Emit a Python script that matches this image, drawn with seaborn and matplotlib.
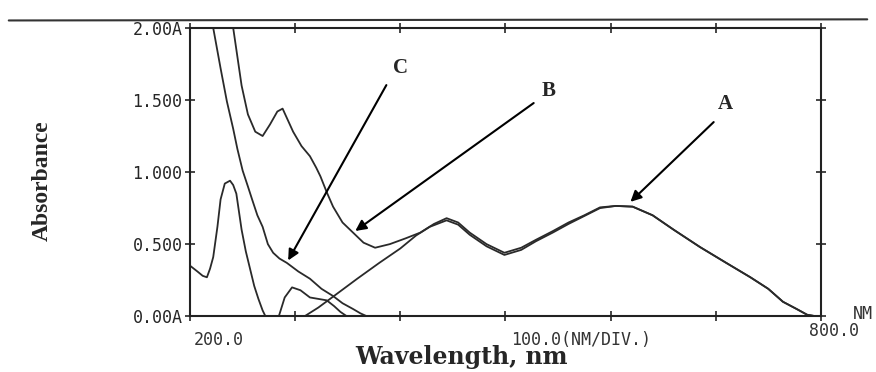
import matplotlib
matplotlib.use("Agg")
import matplotlib.pyplot as plt
from matplotlib.lines import Line2D
import numpy as np
import pandas as pd
import seaborn as sns

# --- data (wavelength nm, absorbance) ---
wl_A = [309, 322, 335, 359, 380, 400, 415, 428, 444, 455, 466, 482, 499, 515, 529, 545,
        560, 575, 590, 605, 621, 640, 660, 685, 710, 733, 750, 764, 777, 787, 795]
abs_A = [0.0, 0.06, 0.13, 0.26, 0.37, 0.47, 0.56, 0.62, 0.665, 0.635, 0.565, 0.485, 0.425, 0.46, 0.52, 0.58,
         0.64, 0.695, 0.75, 0.765, 0.76, 0.70, 0.60, 0.48, 0.37, 0.27, 0.19, 0.10, 0.05, 0.01, 0.0]

wl_B = [232, 241, 245, 249, 255, 262, 269, 276, 283, 288, 293, 298, 306, 314, 320, 324, 330,
        336, 345, 355, 365, 376, 390, 405, 419, 432, 444, 455, 466, 482, 499, 515, 529, 545,
        560, 575, 590, 605, 621, 640, 660, 685, 710, 733, 750, 764, 777, 787, 795]
abs_B = [2.4, 2.0, 1.80, 1.60, 1.40, 1.28, 1.25, 1.33, 1.42, 1.44, 1.36, 1.28, 1.18, 1.11, 1.03, 0.97, 0.86,
         0.76, 0.65, 0.58, 0.51, 0.475, 0.50, 0.54, 0.58, 0.64, 0.68, 0.65, 0.58, 0.50, 0.44, 0.475, 0.53, 0.59,
         0.65, 0.70, 0.755, 0.765, 0.76, 0.70, 0.60, 0.48, 0.37, 0.27, 0.19, 0.10, 0.05, 0.01, 0.0]

wl_C = [215, 222, 229, 235, 241, 245, 250, 255, 259, 264, 269, 274, 279, 285, 292, 303, 314,
        325, 336, 345, 355, 362, 368]
abs_C = [2.4, 2.0, 1.72, 1.49, 1.30, 1.16, 1.01, 0.90, 0.81, 0.70, 0.62, 0.50, 0.44, 0.40, 0.37, 0.31, 0.26,
         0.19, 0.14, 0.09, 0.05, 0.02, 0.0]

# unlabelled trace with the 0.94 band in the UV
wl_D = [200, 207, 212, 216, 219, 222, 226, 229, 233, 238, 241, 244, 249, 253, 257, 261, 265, 269,
        273, 278, 284, 290, 297, 305, 314, 322, 330, 337, 343, 349]
abs_D = [0.35, 0.31, 0.28, 0.27, 0.33, 0.41, 0.62, 0.81, 0.92, 0.94, 0.91, 0.85, 0.60, 0.45, 0.33, 0.21, 0.12, 0.04,
         -0.02, -0.06, -0.01, 0.13, 0.20, 0.18, 0.13, 0.12, 0.11, 0.07, 0.03, 0.0]

ytick_vals = [0.0, 0.5, 1.0, 1.5, 2.0]
ytick_labels = ["0.00A", "0.500", "1.000", "1.500", "2.00A"]
xtick_vals = [200, 300, 400, 500, 600, 700, 800]

sns.set_style("white")
plt.rcParams["font.family"] = ["DejaVu Sans Mono", "DejaVu Sans"]

fig = plt.figure(figsize=(8.76, 3.72), dpi=100)
ax = fig.add_axes([0.217, 0.150, 0.720, 0.775])

for wl, ab in [(wl_A, abs_A), (wl_B, abs_B), (wl_C, abs_C), (wl_D, abs_D)]:
    df = pd.DataFrame({"wl": wl, "abs": ab})
    sns.lineplot(data=df, x="wl", y="abs", ax=ax, color="#2a2a2a", lw=1.3,
                 sort=False, estimator=None)

ax.set_xlim(200, 800)
ax.set_ylim(0, 2.0)
ax.set_yticks(ytick_vals)
ax.set_yticklabels(ytick_labels, fontsize=12)
ax.set_xticks(xtick_vals)
ax.set_xticklabels([])
ax.tick_params(axis="both", direction="inout", length=7, width=1.2,
               top=True, right=True, bottom=True, left=True)
ax.tick_params(axis="y", pad=2)
for s in ax.spines.values():
    s.set_linewidth(1.5)
    s.set_color("#222222")

# instrument style axis texts
bx = ax.get_xaxis_transform()
ax.text(227, -0.05, "200.0", transform=bx, ha="center", va="top", fontsize=12, color="#333")
ax.text(572, -0.05, "100.0(NM/DIV.)", transform=bx, ha="center", va="top", fontsize=12, color="#333")
ax.text(813, -0.02, "800.0", transform=bx, ha="center", va="top", fontsize=12, color="#333", clip_on=False)
ax.text(840, 0.04, "NM", transform=bx, ha="center", va="top", fontsize=12, color="#333", clip_on=False)

ax.set_xlabel("Wavelength, nm", family="DejaVu Serif", fontweight="bold", fontsize=17)
ax.xaxis.set_label_coords(0.43, -0.10)
ax.set_ylabel("Absorbance", family="Liberation Serif", fontweight="bold", fontsize=17)
ax.yaxis.set_label_coords(-0.217, 0.47)

# curve labels with arrows
arrow = dict(arrowstyle="-|>", color="black", lw=1.5, mutation_scale=16)
ax.annotate("", xy=(292, 0.37), xytext=(388, 1.62), arrowprops=arrow)
ax.annotate("", xy=(355, 0.58), xytext=(529, 1.49), arrowprops=arrow)
ax.annotate("", xy=(617, 0.78), xytext=(700, 1.36), arrowprops=arrow)
lab = dict(family="Liberation Serif", fontweight="bold", fontsize=15, ha="center", va="center")
ax.text(400, 1.72, "C", **lab)
ax.text(541, 1.56, "B", **lab)
ax.text(709, 1.47, "A", **lab)

# page edge line of the scan
fig.add_artist(Line2D([0.01, 0.99], [0.945, 0.948], color="#333", lw=1.5))

fig.savefig("out.png", dpi=100)
